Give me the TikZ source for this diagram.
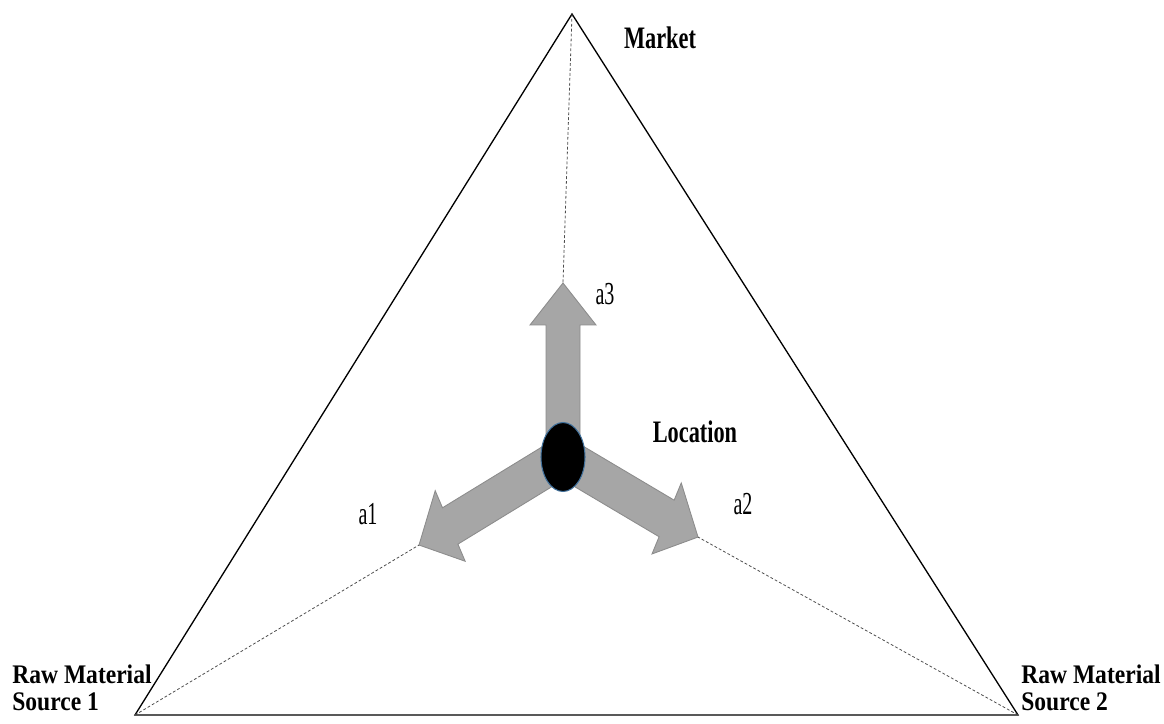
\documentclass[tikz,border=0pt]{standalone}
\usepackage{fontspec}
\setmainfont{Liberation Serif}
\usetikzlibrary{shapes.geometric, positioning}

\definecolor{arrowgray}{HTML}{A6A6A6}
\definecolor{arrowedge}{HTML}{8C8C8C}
\definecolor{dotedge}{HTML}{41719C}

\begin{document}
\begin{tikzpicture}[
    x=0.02cm, y=0.02cm,
    side/.style = {draw=black, line width=0.75pt, line join=miter},
    guide/.style = {draw=black!70, line width=0.45pt, dash pattern=on 1.6pt off 1.2pt},
    bigarrow/.style = {fill=arrowgray, draw=arrowedge, line width=0.5pt, line join=miter},
    locdot/.style = {ellipse, fill=black, draw=dotedge, line width=0.6pt, minimum width=0.88cm, minimum height=1.38cm, inner sep=0},
    biglabel/.style = {font=\bfseries\fontsize{12.7}{12.7}\selectfont, yscale=1.4, transform shape, inner sep=0},
    cornerlabel/.style = {font=\bfseries\fontsize{13.4}{13.4}\selectfont, yscale=1.14, transform shape, inner sep=0, align=left, anchor=west},
    alabel/.style = {font=\fontsize{11.4}{12}\selectfont, yscale=1.6, transform shape, inner sep=0}
]
\useasboundingbox (0,0) rectangle (1164,724);

% corners of the triangle
\coordinate (mkt) at (572,710);
\coordinate (src1) at (135,9);
\coordinate (src2) at (1018,9);

\draw[side] (mkt) -- (src2) -- (src1) -- cycle;

\coordinate (c) at (563,267);

% the three pulls on the location (drawn a bit stretched upward)
\foreach \ang/\len/\nm in {90/145/t3, 207/161.6/t1, -26.3/150.6/t2} {
    \begin{scope}[shift={(c)}, yscale=1.2, rotate=\ang]
        \draw[bigarrow] (0,-17) -- (\len-35,-17) -- (\len-35,-33) -- (\len,0)
            -- (\len-35,33) -- (\len-35,17) -- (0,17) -- cycle;
        \coordinate (\nm) at (\len,0);
    \end{scope}
}

\node[locdot] (loc) at (c) {};

\draw[guide] (mkt) -- (t3);
\draw[guide] (src1) -- (t1);
\draw[guide] (src2) -- (t2);

\node[biglabel] (mktlbl) at (660,686) {Market};
\node[biglabel] (loclbl) at (695,292) {Location};
\node[cornerlabel] (src1lbl) at (12,36) {Raw Material\\Source 1};
\node[cornerlabel] (src2lbl) at (1021,36) {Raw Material\\Source 2};

\node[alabel] (a1) at (368,210) {a1};
\node[alabel] (a2) at (743,220) {a2};
\node[alabel] (a3) at (605,430) {a3};

\end{tikzpicture}
\end{document}
